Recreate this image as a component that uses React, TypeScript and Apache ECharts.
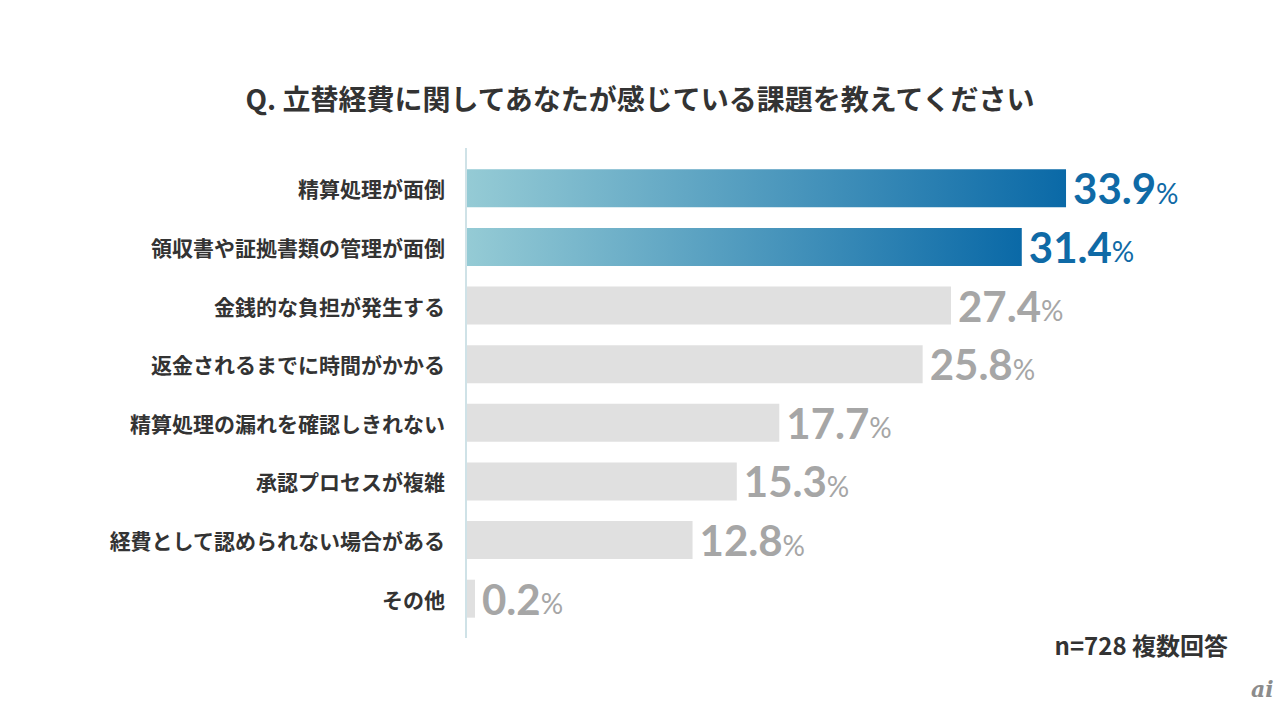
import React, { useEffect, useRef } from "react";
import * as echarts from "echarts";

const categories: string[] = [
  "精算処理が面倒",
  "領収書や証拠書類の管理が面倒",
  "金銭的な負担が発生する",
  "返金されるまでに時間がかかる",
  "精算処理の漏れを確認しきれない",
  "承認プロセスが複雑",
  "経費として認められない場合がある",
  "その他",
];
const values: number[] = [33.9, 31.4, 27.4, 25.8, 17.7, 15.3, 12.8, 0.2];
const highlighted: boolean[] = [true, true, false, false, false, false, false, false];

const TITLE = "Q. 立替経費に関してあなたが感じている課題を教えてください";
const FOOTNOTE = "n=728 複数回答";

const BLUE = "#0f6aa6";
const GRAY_TEXT = "#a6a6a6";
const GRAY_BAR = "#e0e0e0";

export default function App() {
  const ref = useRef<HTMLDivElement>(null);
  useEffect(() => {
    if (!ref.current) return;
    const chart = echarts.init(ref.current, undefined, { renderer: "svg" });
    const data = values.map((v, i) => ({
      value: v,
      itemStyle: {
        color: highlighted[i]
          ? new echarts.graphic.LinearGradient(0, 0, 1, 0, [
              { offset: 0, color: "#95cbd5" },
              { offset: 1, color: "#0a69a7" },
            ])
          : GRAY_BAR,
      },
      label: {
        rich: {
          num: { color: highlighted[i] ? BLUE : GRAY_TEXT },
          pct: { color: highlighted[i] ? BLUE : GRAY_TEXT },
        },
      },
    }));
    chart.setOption({
      animation: false,
      backgroundColor: "#ffffff",
      title: {
        text: TITLE,
        left: "center",
        top: 79,
        textStyle: {
          fontFamily: "Noto Sans CJK JP",
          fontWeight: "bold",
          fontSize: 28,
          color: "#333333",
        },
      },
      grid: { left: 466, right: 106, top: 159, bottom: 82, containLabel: false },
      xAxis: {
        type: "value",
        min: 0,
        max: 40,
        show: false,
      },
      yAxis: {
        type: "category",
        data: categories,
        inverse: true,
        axisLine: { show: false },
        axisTick: { show: false },
        splitLine: { show: false },
        axisLabel: {
          margin: 21,
          fontFamily: "Noto Sans CJK JP",
          fontWeight: "bold",
          fontSize: 21,
          color: "#333333",
        },
      },
      series: [
        {
          type: "bar",
          data,
          barWidth: 38,
          barMinHeight: 9,
          label: {
            show: true,
            position: "right",
            distance: 7,
            formatter: (p: any) => `{num|${p.value.toFixed(1)}}{pct|%}`,
            rich: {
              num: {
                fontFamily: "Lato",
                fontWeight: "bold",
                fontSize: 42,
                color: GRAY_TEXT,
              },
              pct: {
                fontFamily: "Lato",
                fontWeight: "normal",
                fontSize: 28,
                color: GRAY_TEXT,
                padding: [9, 0, 0, 0],
              },
            },
          },
        },
      ],
      graphic: [
        {
          type: "line",
          shape: { x1: 466, y1: 148, x2: 466, y2: 638 },
          style: { stroke: "#cfe2e7", lineWidth: 2 },
          z: 10,
        },
        {
          type: "text",
          right: 52,
          top: 632,
          style: {
            text: FOOTNOTE,
            font: "bold 24px 'Noto Sans CJK JP'",
            fill: "#333333",
          },
        },
        {
          type: "text",
          left: 1251,
          top: 678,
          style: {
            text: "ai",
            font: "italic bold 22px 'DejaVu Serif'",
            fill: "#8c8c8c",
          },
        },
      ],
    });
    return () => chart.dispose();
  }, []);
  return (
    <div
      ref={ref}
      style={{ width: 1280, height: 710, position: "absolute", left: 0, top: 0 }}
    />
  );
}
